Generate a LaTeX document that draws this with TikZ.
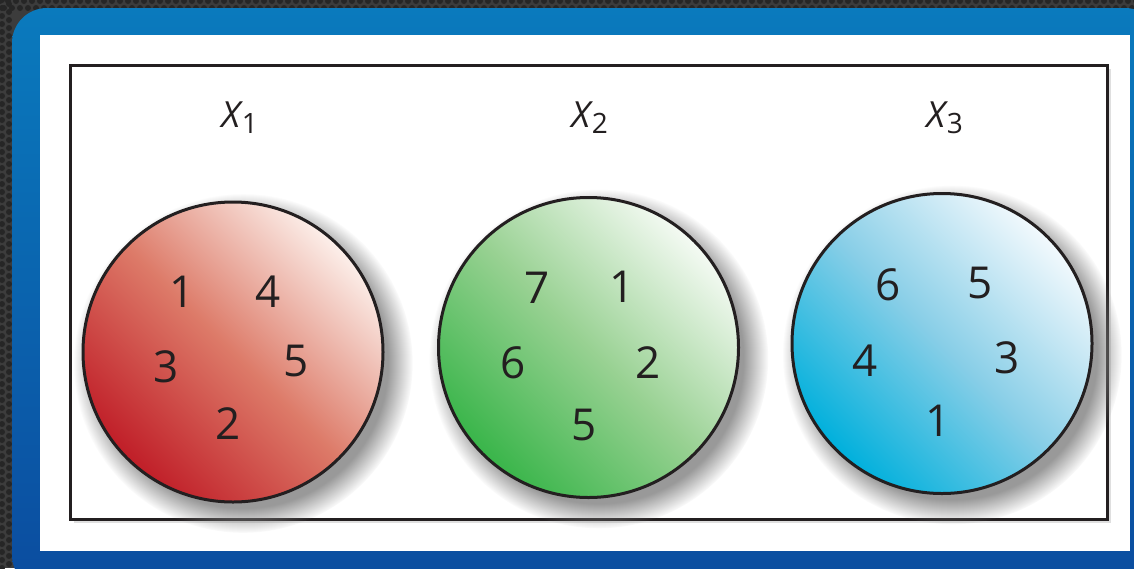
\documentclass[tikz,border=0pt]{standalone}
\usepackage{fontspec}
\setmainfont{Open Sans}
\usetikzlibrary{shadows,fadings}
\definecolor{bgdark}{HTML}{3C3C3C}
\definecolor{frametop}{HTML}{0A7ABD}
\definecolor{framebot}{HTML}{0B4C9F}
\definecolor{cborder}{HTML}{231F20}
\definecolor{numcol}{HTML}{231F20}
\definecolor{redA}{HTML}{C01E28}
\definecolor{redB}{HTML}{DD7B69}
\definecolor{redC}{HTML}{FCEFEA}
\definecolor{grnA}{HTML}{39B54A}
\definecolor{grnB}{HTML}{98D192}
\definecolor{grnC}{HTML}{F4FAF3}
\definecolor{bluA}{HTML}{00B0DC}
\definecolor{bluB}{HTML}{88CEE7}
\definecolor{bluC}{HTML}{F2F9FD}
\newcommand{\xlab}[1]{\textit{X}\kern-0.6pt\raisebox{-3.2pt}{\fontsize{14}{14}\selectfont #1}}
\tikzset{
  circ/.style={circle, draw=cborder, line width=1.5pt, minimum size=150pt, inner sep=0pt,
    circular drop shadow={shadow xshift=4.5pt, shadow yshift=-5pt, shadow scale=1.13, opacity=.8}},
  redfill/.style={bottom color=redA, top color=redC, middle color=redB, shading angle=-45},
  grnfill/.style={bottom color=grnA, top color=grnC, middle color=grnB, shading angle=-45},
  blufill/.style={bottom color=bluA, top color=bluC, middle color=bluB, shading angle=-45},
  dig/.style={font=\fontsize{22}{22}\selectfont, text=numcol, inner sep=0pt},
  lab/.style={font=\fontsize{18}{18}\selectfont, text=numcol, inner sep=0pt, anchor=base west},
  hole/.style={fill=black!85}
}
\begin{document}
\begin{tikzpicture}[x=0.5pt,y=-0.5pt]
\useasboundingbox (0,0) rectangle (1134,568);
\begin{scope}
\clip (0,0) rectangle (1134,568);
\fill[bgdark] (0,0) rectangle (1134,568);
\foreach \i in {0,...,142}{
  \fill[hole] (\i*8,1) circle (3);
  \fill[hole] (\i*8+4,8) circle (3);
}
\foreach \j in {0,...,72}{
  \fill[hole] (2,\j*8) circle (3);
  \fill[hole] (9,\j*8+4) circle (3);
}
\shade[top color=frametop, bottom color=framebot, rounded corners=17.5pt] (12,8) rectangle (1160,590);
\fill[white] (40,35) rectangle (1130,551);
\end{scope}
\draw[cborder, line width=1.5pt, drop shadow={shadow xshift=1.5pt, shadow yshift=-1.5pt, opacity=.25}] (70.5,65.5) rectangle (1107.5,519.5);
\fill[white] (72,67) rectangle (1106,518);

\node[lab] (l1) at (221,127) {\xlab{1}};
\node[lab] (l2) at (571,127) {\xlab{2}};
\node[lab] (l3) at (926,127) {\xlab{3}};

\node[circ, redfill] (c1) at (233,352) {};
\node[circ, grnfill] (c2) at (588.5,347.5) {};
\node[circ, blufill] (c3) at (942,343.5) {};

\node[dig] (r1) at (182,292) {1};
\node[dig] (r4) at (268,292) {4};
\node[dig] (r3) at (166,367) {3};
\node[dig] (r5) at (296,361) {5};
\node[dig] (r2) at (228,424) {2};

\node[dig] (g7) at (537.5,288) {7};
\node[dig] (g1) at (622,287) {1};
\node[dig] (g6) at (513,363) {6};
\node[dig] (g2) at (648,362.5) {2};
\node[dig] (g5) at (584,425) {5};

\node[dig] (b6) at (888,284.5) {6};
\node[dig] (b5) at (980,283) {5};
\node[dig] (b4) at (865,360.5) {4};
\node[dig] (b3) at (1007.5,357.5) {3};
\node[dig] (b1) at (938,421) {1};
\end{tikzpicture}
\end{document}
